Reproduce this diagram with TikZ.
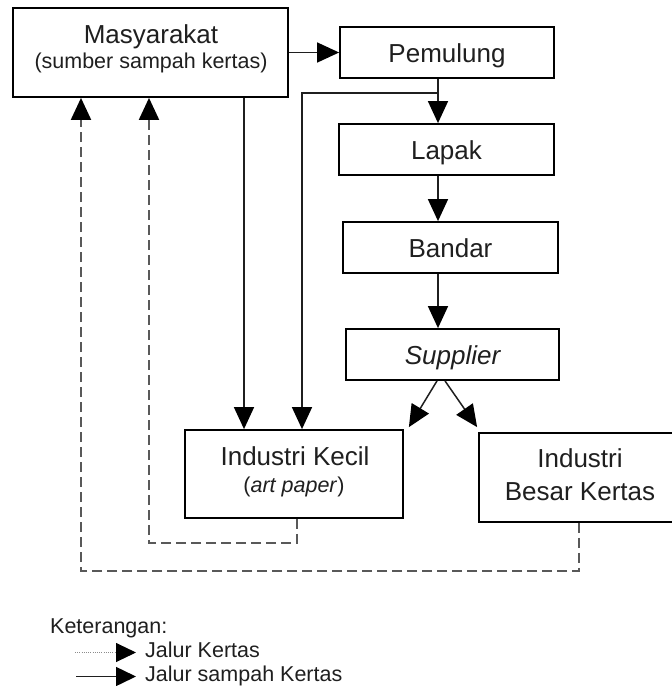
\documentclass[tikz,border=0pt]{standalone}
\usepackage{fontspec}
\setmainfont{Liberation Sans}
\usetikzlibrary{arrows.meta,calc}
\begin{document}
\begin{tikzpicture}[x=1pt,y=-1pt,
  box/.style={draw=black,line width=1.8pt,fill=white,inner sep=0pt},
  onebox/.style={box,font=\fontsize{26}{30}\selectfont,text=black!88,text height=19pt,text depth=0pt},
  big/.style={font=\fontsize{26}{30}\selectfont,text=black!88,inner sep=0pt,anchor=base},
  small/.style={font=\fontsize{21.5}{26}\selectfont,text=black!88,inner sep=0pt,anchor=base},
  arr/.style={draw=black!88,line width=1.5pt,-{Triangle[length=22pt,width=20pt,color=black]}},
  dsh/.style={draw=black!65,line width=2pt,dash pattern=on 10pt off 5pt,-{Triangle[length=22pt,width=20pt,color=black]}},
  ldot/.style={draw=black!45,line width=1pt,dash pattern=on 1pt off 1.2pt,-{Triangle[length=20pt,width=19pt,color=black]}},
  lsol/.style={draw=black!88,line width=1.5pt,-{Triangle[length=20pt,width=19pt,color=black]}}
]
\useasboundingbox (0,0) rectangle (672,686);

% boxes
\node[box,minimum width=275pt,minimum height=89pt] (mas) at (150.5,52.5) {};
\node[onebox,minimum width=214pt,minimum height=51pt] (pem) at (447,52.5) {Pemulung};
\node[onebox,minimum width=215pt,minimum height=51pt] (lap) at (446.5,149.5) {Lapak};
\node[onebox,minimum width=215pt,minimum height=51pt] (ban) at (450.5,247.5) {Bandar};
\node[onebox,minimum width=213pt,minimum height=51pt] (sup) at (452.5,354.5) {\itshape Supplier};
\node[box,minimum width=218pt,minimum height=88pt] (ik) at (294,474) {};
\node[box,minimum width=202pt,minimum height=89pt] (ib) at (580,477.5) {};

% texts of two-line boxes
\node[big] (mas1) at (151,43) {Masyarakat};
\node[small] (mas2) at (151,68) {(sumber sampah kertas)};
\node[big] (ik1) at (295,465) {Industri Kecil};
\node[small] (ik2) at (294,492) {(\textit{art paper})};
\node[big] (ib1) at (580,467) {Industri};
\node[big] (ib2) at (580,500) {Besar Kertas};

% helper coordinates
\coordinate (xa) at (244,0);
\coordinate (xb) at (302,0);
\coordinate (xc) at (438,0);
\coordinate (j) at (438,93);
\coordinate (xs1) at (437,0);
\coordinate (xs2) at (445,0);
\coordinate (xd) at (297,0);
\coordinate (xe) at (149,0);
\coordinate (xf) at (579,0);
\coordinate (xg) at (81,0);

% solid connectors
\draw[arr] (mas) -- (pem);
\draw[arr] (mas.south -| xa) -- (ik.north -| xa);
\draw[arr] (pem.south -| xc) -- (lap.north -| xc);
\draw[arr] (j) -| (ik.north -| xb);
\draw[arr] (lap.south -| xc) -- (ban.north -| xc);
\draw[arr] (ban.south -| xc) -- (sup.north -| xc);
\draw[arr] (sup.south -| xs1) -- ($(ik.north east)+(5,-2)$);
\draw[arr] (sup.south -| xs2) -- ($(ib.north west)+(-1,-5)$);

% dashed connectors
\draw[dsh] (ik.south -| xd) -- ++(0,24) -| (mas.south -| xe);
\draw[dsh] (ib.south -| xf) -- ++(0,48) -| (mas.south -| xg);

% legend
\node[small,anchor=base west] (ket) at (50,633) {Keterangan:};
\node[small,anchor=base west] (leg1) at (145,657.5) {Jalur Kertas};
\node[small,anchor=base west] (leg2) at (145,681.5) {Jalur sampah Kertas};
\coordinate (l1) at (75,652.5);
\coordinate (l2) at (76,676.5);
\draw[ldot] (l1) -- (l1 -| leg1.west) [shorten >=9pt];
\draw[lsol] (l2) -- (l2 -| leg2.west) [shorten >=9pt];
\end{tikzpicture}
\end{document}
